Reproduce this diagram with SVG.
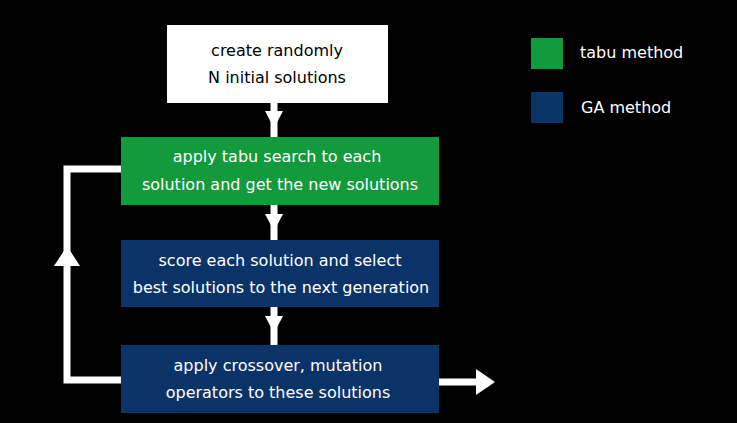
<svg xmlns="http://www.w3.org/2000/svg" width="737" height="423" viewBox="0 0 737 423">
<style>
.t{font-family:"DejaVu Sans","Noto Sans",sans-serif;font-size:16px;text-anchor:middle}
.w{fill:#ffffff}
.k{fill:#000000}
.g{fill:#139a3c}
.b{fill:#0a3468}
.c{fill:none;stroke:#ffffff;stroke-width:7}
.h{fill:#ffffff}
</style>
<rect width="737" height="423" fill="#000000"/>
<g id="connectors">
<line class="c" x1="274" y1="103" x2="274" y2="137"/>
<polygon class="h" points="265,111 283,111 274,128"/>
<line class="c" x1="274" y1="205" x2="274" y2="240"/>
<polygon class="h" points="265,214 283,214 274,231"/>
<line class="c" x1="274" y1="307" x2="274" y2="345"/>
<polygon class="h" points="265,316 283,316 274,333"/>
<polyline class="c" points="121,380 67,380 67,169 121,169"/>
<polygon class="h" points="54,266 80,266 67,246"/>
<line class="c" x1="439" y1="382" x2="480" y2="382"/>
<polygon class="h" points="476,369 476,395 495,382"/>
</g>
<g id="n1">
<rect class="w" x="167" y="25" width="221" height="78"/>
<text class="t k" x="277" y="56">create randomly</text>
<text class="t k" x="277" y="83">N initial solutions</text>
</g>
<g id="n2">
<rect class="g" x="121" y="137" width="318" height="68"/>
<text class="t w" x="277" y="162">apply tabu search to each</text>
<text class="t w" x="280" y="190">solution and get the new solutions</text>
</g>
<g id="n3">
<rect class="b" x="121" y="240" width="318" height="67"/>
<text class="t w" x="280" y="266">score each solution and select</text>
<text class="t w" x="281" y="293">best solutions to the next generation</text>
</g>
<g id="n4">
<rect class="b" x="121" y="345" width="318" height="68"/>
<text class="t w" x="278" y="371">apply crossover, mutation</text>
<text class="t w" x="278" y="398">operators to these solutions</text>
</g>
<g id="legend-tabu">
<rect class="g" x="531" y="38" width="32" height="31"/>
<text class="t w" x="580" y="58" style="text-anchor:start">tabu method</text>
</g>
<g id="legend-ga">
<rect class="b" x="531" y="92" width="32" height="31"/>
<text class="t w" x="581" y="113" style="text-anchor:start">GA method</text>
</g>
</svg>
